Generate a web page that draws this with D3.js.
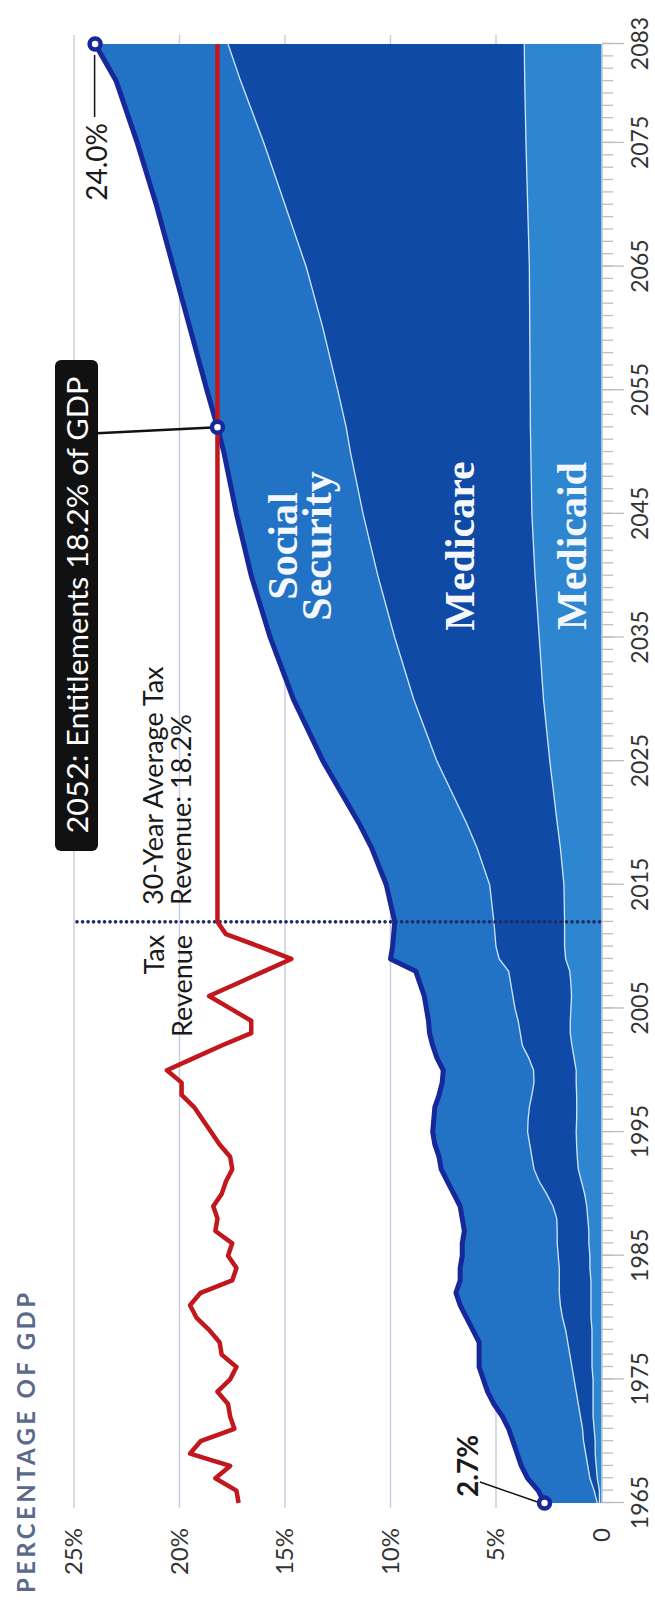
<!DOCTYPE html>
<html><head><meta charset="utf-8">
<script src="https://cdn.jsdelivr.net/npm/d3@7"></script>
<style>html,body{margin:0;padding:0;background:#fff;} svg{display:block;}</style>
</head><body>
<svg id="chart" width="655" height="1606"></svg>
<script>
// ---- data ----
const years = [1965,1966,1967,1968,1969,1970,1971,1972,1973,1974,1975,1976,1977,1978,1979,1980,1981,1982,1983,1984,
  1985,1986,1987,1988,1989,1990,1991,1992,1993,1994,1995,1996,1997,1998,1999,2000,2001,2002,2003,2004,
  2005,2006,2007,2008,2009,2010,2011,2012,
  2015,2018,2020,2025,2030,2035,2040,2045,2050,2052,2055,2060,2065,2070,2075,2080,2083];
const socialSecurity = [2.5,2.65,2.95,3.15,3.25,3.35,3.5,3.7,4.0,4.2,4.3,4.4,4.3,4.2,4.4,4.55,4.75,4.9,4.7,4.7,
  4.55,4.5,4.4,4.48,4.4,4.4,4.35,4.4,4.4,4.5,4.5,4.47,4.48,4.4,4.35,4.28,4.35,4.25,4.3,4.25,
  4.2,4.2,4.3,4.4,5.15,4.9,4.8,4.7,
  4.9,5.0,5.1,5.4,5.7,5.9,6.0,6.0,6.0,6.1,6.2,6.3,6.3,6.1,6.0,5.9,6.3];
const medicare = [0.1,0.25,0.35,0.4,0.45,0.55,0.55,0.6,0.7,0.8,0.9,0.95,1.05,1.15,1.25,1.35,1.45,1.5,1.5,1.45,
  1.5,1.5,1.5,1.47,1.6,1.8,2.0,2.1,2.15,2.22,2.3,2.3,2.25,2.12,2.0,2.02,2.15,2.35,2.37,2.47,
  2.65,2.78,2.85,2.9,3.15,3.25,3.3,3.35,
  3.52,3.95,4.3,5.35,6.15,6.85,7.45,8.0,8.55,8.73,9.12,9.8,10.58,11.5,12.42,13.46,14.04];
const medicaid = [0.1,0.1,0.2,0.25,0.3,0.3,0.35,0.4,0.4,0.4,0.4,0.45,0.45,0.45,0.45,0.5,0.5,0.5,0.5,0.55,
  0.55,0.6,0.6,0.65,0.7,0.8,0.95,1.1,1.15,1.18,1.2,1.18,1.17,1.18,1.2,1.2,1.3,1.4,1.48,1.48,
  1.45,1.42,1.45,1.5,1.7,1.75,1.75,1.75,
  1.78,1.95,2.1,2.45,2.75,2.95,3.15,3.3,3.35,3.37,3.38,3.4,3.42,3.5,3.58,3.64,3.66];
const taxYears = [1965,1966,1967,1968,1969,1970,1971,1972,1973,1974,1975,1976,1977,1978,1979,1980,1981,1982,1983,1984,
  1985,1986,1987,1988,1989,1990,1991,1992,1993,1994,1995,1996,1997,1998,1999,2000,2001,2002,2003,2004,
  2005,2006,2007,2008,2009,2010,2011,2012,2083];
const taxRevenue = [17.2,17.3,18.3,17.6,19.5,19.0,17.4,17.6,17.7,18.2,17.6,17.3,18.0,18.1,18.6,19.2,19.5,19.0,17.5,17.3,
  17.7,17.5,18.3,18.2,18.4,18.0,17.8,17.5,17.6,18.1,18.5,18.9,19.3,19.9,19.9,20.6,19.3,18.0,16.6,16.6,
  17.6,18.6,17.3,16.0,14.7,16.2,17.8,18.2,18.2];
const yearTicks = [1965,1975,1985,1995,2005,2015,2025,2035,2045,2055,2065,2075,2083];
const pctTicks = [0,5,10,15,20,25];
const pctTickLabels = ["0","5%","10%","15%","20%","25%"];
const projectionStart = 2012;
const callouts = [{year:1965,value:2.7,label:"2.7%"},{year:2052,value:18.2,label:"2052: Entitlements 18.2% of GDP"},{year:2083,value:24.0,label:"24.0%"}];

// ---- drawing (landscape chart rotated -90deg) ----
const W = 1606, H = 655;
const sans = "Lato, 'Open Sans', sans-serif";
const serif = "'Liberation Serif', 'DejaVu Serif', serif";
const svg = d3.select("#chart");
const g = svg.append("g").attr("transform", `translate(0,${W}) rotate(-90)`);

const x = d3.scaleLinear().domain([1965, 2083]).range([103, 1562]);
const y = d3.scaleLinear().domain([0, 25]).range([601.5, 74]);

// gridlines
g.append("g").selectAll("line").data(pctTicks.filter(v => v > 0)).join("line")
  .attr("x1", 98).attr("x2", 1571)
  .attr("y1", d => y(d)).attr("y2", d => y(d))
  .attr("stroke", "#c8cbdb").attr("stroke-width", 1.4);

// title
g.append("text").attr("x", 13).attr("y", 35)
  .attr("font-family", sans).attr("font-weight", "bold").attr("font-size", 24)
  .attr("fill", "#5b6a8a").attr("textLength", 300).attr("lengthAdjust", "spacing")
  .text("PERCENTAGE OF GDP");

// percentage axis labels
const yAxis = d3.axisLeft(y).tickValues(pctTicks).tickSize(0).tickPadding(0)
  .tickFormat((d, i) => pctTickLabels[i]);
const ya = g.append("g").attr("transform", "translate(78,0)").call(yAxis);
ya.select(".domain").remove();
ya.selectAll("text").attr("font-family", sans).attr("font-size", 24).attr("fill", "#333").attr("dy", "0.33em");

// stacked areas
const rows = years.map((yr, i) => ({year: yr, medicaid: medicaid[i], medicare: medicare[i], socialSecurity: socialSecurity[i]}));
const keys = ["medicaid", "medicare", "socialSecurity"];
const colors = {medicaid: "#2e86d1", medicare: "#0f4aa6", socialSecurity: "#2273c6"};
const stacked = d3.stack().keys(keys)(rows);
const area = d3.area().x(d => x(d.data.year)).y0(d => y(d[0])).y1(d => y(d[1]));
g.append("g").selectAll("path").data(stacked).join("path")
  .attr("d", area).attr("fill", d => colors[d.key]);

// white separators
const topLine = d3.line().x(d => x(d.data.year)).y(d => y(d[1]));
g.append("g").selectAll("path").data(stacked.slice(0, 2)).join("path")
  .attr("d", topLine).attr("fill", "none").attr("stroke", "#cfe6fb").attr("stroke-width", 1.3);

// year axis ticks
const xMinor = d3.axisBottom(x).tickValues(d3.range(1965, 2084)).tickSize(11).tickFormat("");
const xm = g.append("g").attr("transform", "translate(0,602)").call(xMinor);
xm.select(".domain").attr("stroke", "#d4d4d4").attr("stroke-width", 1);
xm.selectAll(".tick line").attr("stroke", "#bdbdbd").attr("stroke-width", 1.3);
const xMajor = d3.axisBottom(x).tickValues(yearTicks).tickSize(22).tickPadding(8).tickFormat(d3.format("d"));
const xM = g.append("g").attr("transform", "translate(0,602)").call(xMajor);
xM.select(".domain").remove();
xM.selectAll(".tick line").attr("stroke", "#bdbdbd").attr("stroke-width", 1.3);
xM.selectAll("text").attr("font-family", sans).attr("font-size", 23).attr("fill", "#333");

// total outline
g.append("path").datum(stacked[2]).attr("d", topLine)
  .attr("fill", "none").attr("stroke", "#16289a").attr("stroke-width", 5)
  .attr("stroke-linejoin", "round");

// projection start dotted line
g.append("line").attr("x1", x(projectionStart)).attr("x2", x(projectionStart))
  .attr("y1", 77).attr("y2", 603)
  .attr("stroke", "#1f2b66").attr("stroke-width", 3.6)
  .attr("stroke-dasharray", "0.1,5.4").attr("stroke-linecap", "round");

// tax revenue line
const taxLine = d3.line().x((d, i) => x(taxYears[i])).y(d => y(d));
g.append("path").datum(taxRevenue).attr("d", taxLine)
  .attr("fill", "none").attr("stroke", "#c1171d").attr("stroke-width", 4.5)
  .attr("stroke-linejoin", "round");

// tax labels
const lab = (txt, xx, yy, anchor, size, extra) => {
  const t = g.append("text").attr("x", xx).attr("y", yy).attr("text-anchor", anchor)
    .attr("font-family", sans).attr("font-size", size).attr("fill", "#1a1a1a").text(txt);
  if (extra) extra(t);
  return t;
};
const xp = x(projectionStart);
lab("Tax", xp - 13, 164, "end", 27);
lab("Revenue", xp - 13, 192, "end", 27);
lab("30-Year Average Tax", xp + 17, 163, "start", 27);
lab("Revenue: 18.2%", xp + 17, 191, "start", 27);

// callout box 2052
const c2052 = callouts[1];
g.append("line").attr("x1", x(c2052.year) - 6).attr("y1", 97)
  .attr("x2", x(c2052.year)).attr("y2", y(c2052.value))
  .attr("stroke", "#111").attr("stroke-width", 2.5);
g.append("rect").attr("x", 755).attr("y", 55).attr("width", 491).attr("height", 43)
  .attr("rx", 6).attr("fill", "#111");
g.append("text").attr("x", 1001).attr("y", 88).attr("text-anchor", "middle")
  .attr("font-family", sans).attr("font-size", 29).attr("fill", "#fff")
  .attr("textLength", 457).attr("lengthAdjust", "spacingAndGlyphs").text(c2052.label);

// 24.0% label
const c2083 = callouts[2];
g.append("line").attr("x1", x(c2083.year) - 11).attr("x2", x(c2083.year) - 73)
  .attr("y1", y(c2083.value) - 0.5).attr("y2", y(c2083.value) - 0.5)
  .attr("stroke", "#111").attr("stroke-width", 1.5);
lab(c2083.label, x(c2083.year) - 79, 107, "end", 28);

// 2.7% label
const c1965 = callouts[0];
g.append("line").attr("x1", x(c1965.year) + 1).attr("y1", y(c1965.value) - 7)
  .attr("x2", x(c1965.year) + 21).attr("y2", 480)
  .attr("stroke", "#111").attr("stroke-width", 1.5);
lab(c1965.label, 109, 478, "start", 28, t => t.attr("font-weight", "bold"));

// markers
g.append("g").selectAll("circle").data(callouts).join("circle")
  .attr("cx", d => x(d.year)).attr("cy", d => y(d.value)).attr("r", 5.5)
  .attr("fill", "#fff").attr("stroke", "#16289a").attr("stroke-width", 4.5);

// series labels
const sl = (txt, yy) => g.append("text").attr("x", 1060).attr("y", yy).attr("text-anchor", "middle")
  .attr("font-family", serif).attr("font-weight", "bold").attr("font-size", 42)
  .attr("fill", "#f4f7fc").text(txt);
sl("Social", 297);
sl("Security", 331);
sl("Medicare", 474);
sl("Medicaid", 586);
</script>
</body></html>
